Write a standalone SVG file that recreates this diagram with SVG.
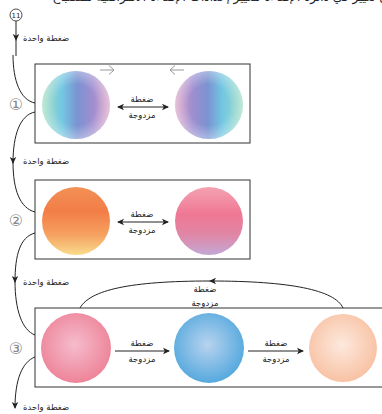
<svg xmlns="http://www.w3.org/2000/svg" width="382" height="414" viewBox="0 0 382 414">
<style>
.t{font-family:"DejaVu Sans",sans-serif;font-size:8.5px;fill:#222}
.num{font-family:"DejaVu Sans",sans-serif;font-size:16px;fill:#888}
.box{fill:#fff;stroke:#333;stroke-width:1}
.ln{fill:none;stroke:#222;stroke-width:1}
.g{fill:none;stroke:#999;stroke-width:1}
</style>
<defs>
<marker id="ah" markerWidth="8" markerHeight="8" refX="6" refY="4" orient="auto" markerUnits="userSpaceOnUse"><path d="M0,0.8 L7,4 L0,7.2 L1.8,4 Z" fill="#222"/></marker>
<marker id="ahs" markerWidth="8" markerHeight="8" refX="1" refY="4" orient="auto" markerUnits="userSpaceOnUse"><path d="M7,0.8 L0,4 L7,7.2 L5.2,4 Z" fill="#222"/></marker>
<linearGradient id="c1" x1="0" y1="0" x2="1" y2="0"><stop offset="0" stop-color="#9fdcc0"/><stop offset="0.3" stop-color="#72c7e3"/><stop offset="0.52" stop-color="#7b93d2"/><stop offset="0.75" stop-color="#a08ed0"/><stop offset="1" stop-color="#dba2c6"/></linearGradient>
<linearGradient id="c1r" x1="1" y1="0" x2="0" y2="0"><stop offset="0" stop-color="#9fdcc0"/><stop offset="0.3" stop-color="#72c7e3"/><stop offset="0.52" stop-color="#7b93d2"/><stop offset="0.75" stop-color="#a08ed0"/><stop offset="1" stop-color="#dba2c6"/></linearGradient>
<radialGradient id="hl" cx="0.5" cy="0.5" r="0.5"><stop offset="0.6" stop-color="#fff" stop-opacity="0"/><stop offset="1" stop-color="#fff" stop-opacity="0.35"/></radialGradient>
<linearGradient id="c2a" x1="0" y1="0" x2="0" y2="1"><stop offset="0" stop-color="#f29156"/><stop offset="0.35" stop-color="#f27d47"/><stop offset="0.7" stop-color="#f6a160"/><stop offset="1" stop-color="#f8db8c"/></linearGradient>
<linearGradient id="c2b" x1="0" y1="0" x2="0" y2="1"><stop offset="0" stop-color="#f4a2b2"/><stop offset="0.4" stop-color="#ef7894"/><stop offset="0.7" stop-color="#e086a6"/><stop offset="1" stop-color="#c3a8d6"/></linearGradient>
<radialGradient id="c3a" cx="0.48" cy="0.45" r="0.55"><stop offset="0" stop-color="#f5bccd"/><stop offset="1" stop-color="#ee8499"/></radialGradient>
<radialGradient id="c3b" cx="0.48" cy="0.45" r="0.55"><stop offset="0" stop-color="#b8d3ef"/><stop offset="1" stop-color="#56a9de"/></radialGradient>
<radialGradient id="c3c" cx="0.48" cy="0.45" r="0.55"><stop offset="0" stop-color="#fde9dd"/><stop offset="1" stop-color="#f8c2a4"/></radialGradient>
</defs>

<text x="388" y="1" text-anchor="end" style="font-family:'DejaVu Sans',sans-serif;font-size:12px;fill:#222">ن تغيير في دائرة الإضاءة لتغيير إعدادات الإضاءة الافتراضية للمصباح</text>

<g id="start">
<circle cx="16" cy="15" r="6" fill="#fff" stroke="#222" stroke-width="0.8"/>
<text x="16" y="17.5" text-anchor="middle" style="font-family:'DejaVu Sans',sans-serif;font-size:7px;fill:#222">11</text>
</g>

<g id="box1">
<rect class="box" x="35" y="64" width="215" height="79"/>
<circle cx="76" cy="105" r="34" fill="url(#c1)"/>
<circle cx="76" cy="105" r="34" fill="url(#hl)"/>
<circle cx="209" cy="105" r="34" fill="url(#c1r)"/>
<circle cx="209" cy="105" r="34" fill="url(#hl)"/>
<path class="g" d="M100,70 H114 M109,65.5 L114,70 L109,74.5"/>
<path class="g" d="M184,70 H170 M175,65.5 L170,70 L175,74.5"/>
<text class="num" x="16" y="110" text-anchor="middle">①</text>
</g>

<g id="box2">
<rect class="box" x="35" y="180" width="215" height="79"/>
<circle cx="76" cy="221" r="34" fill="url(#c2a)"/>
<circle cx="209" cy="221" r="34" fill="url(#c2b)"/>
<text class="num" x="16" y="226" text-anchor="middle">②</text>
</g>

<g id="box3">
<rect class="box" x="35" y="308" width="352" height="79"/>
<circle cx="76" cy="348" r="35" fill="url(#c3a)"/>
<circle cx="209" cy="348" r="35" fill="url(#c3b)"/>
<circle cx="343" cy="348" r="34" fill="url(#c3c)"/>
<text class="num" x="16" y="354" text-anchor="middle">③</text>
</g>

<g id="connectors">
<path class="ln" d="M16,21 V40" marker-end="url(#ah)"/>
<path class="ln" d="M16,40 V56"/>
<path class="ln" d="M13,55 C13,80 20,100 35,103"/>
<path class="ln" d="M35,112 C20,115 13,135 13,163" marker-end="url(#ah)"/>
<path class="ln" d="M13,162 C13,190 20,208 35,212"/>
<path class="ln" d="M35,233 C20,237 15,255 15,282" marker-end="url(#ah)"/>
<path class="ln" d="M15,281 C15,310 22,330 35,335"/>
<path class="ln" d="M35,357 C22,362 15,380 15,408" marker-end="url(#ah)"/>

<path class="ln" d="M118,107 H168" marker-start="url(#ahs)" marker-end="url(#ah)"/>
<path class="ln" d="M118,222 H168" marker-start="url(#ahs)" marker-end="url(#ah)"/>
<path class="ln" d="M115,351 H169" marker-end="url(#ah)"/>
<path class="ln" d="M248,351 H303" marker-end="url(#ah)"/>
<path class="ln" d="M343,308 C335,290 290,281 210,281" marker-end="url(#ah)"/>
<path class="ln" d="M210,281 C130,281 90,290 80,308"/>

<text class="t" x="23" y="41">ضغطة واحدة</text>
<text class="t" x="23" y="164">ضغطة واحدة</text>
<text class="t" x="23" y="285">ضغطة واحدة</text>
<text class="t" x="23" y="410">ضغطة واحدة</text>
<text class="t" x="142" y="102" text-anchor="middle">ضغطة</text>
<text class="t" x="142" y="118" text-anchor="middle">مزدوجة</text>
<text class="t" x="142" y="217" text-anchor="middle">ضغطة</text>
<text class="t" x="142" y="233" text-anchor="middle">مزدوجة</text>
<text class="t" x="142" y="346" text-anchor="middle">ضغطة</text>
<text class="t" x="142" y="362" text-anchor="middle">مزدوجة</text>
<text class="t" x="276" y="346" text-anchor="middle">ضغطة</text>
<text class="t" x="276" y="362" text-anchor="middle">مزدوجة</text>
<text class="t" x="205" y="292" text-anchor="middle">ضغطة</text>
<text class="t" x="205" y="306" text-anchor="middle">مزدوجة</text>
</g>
</svg>
